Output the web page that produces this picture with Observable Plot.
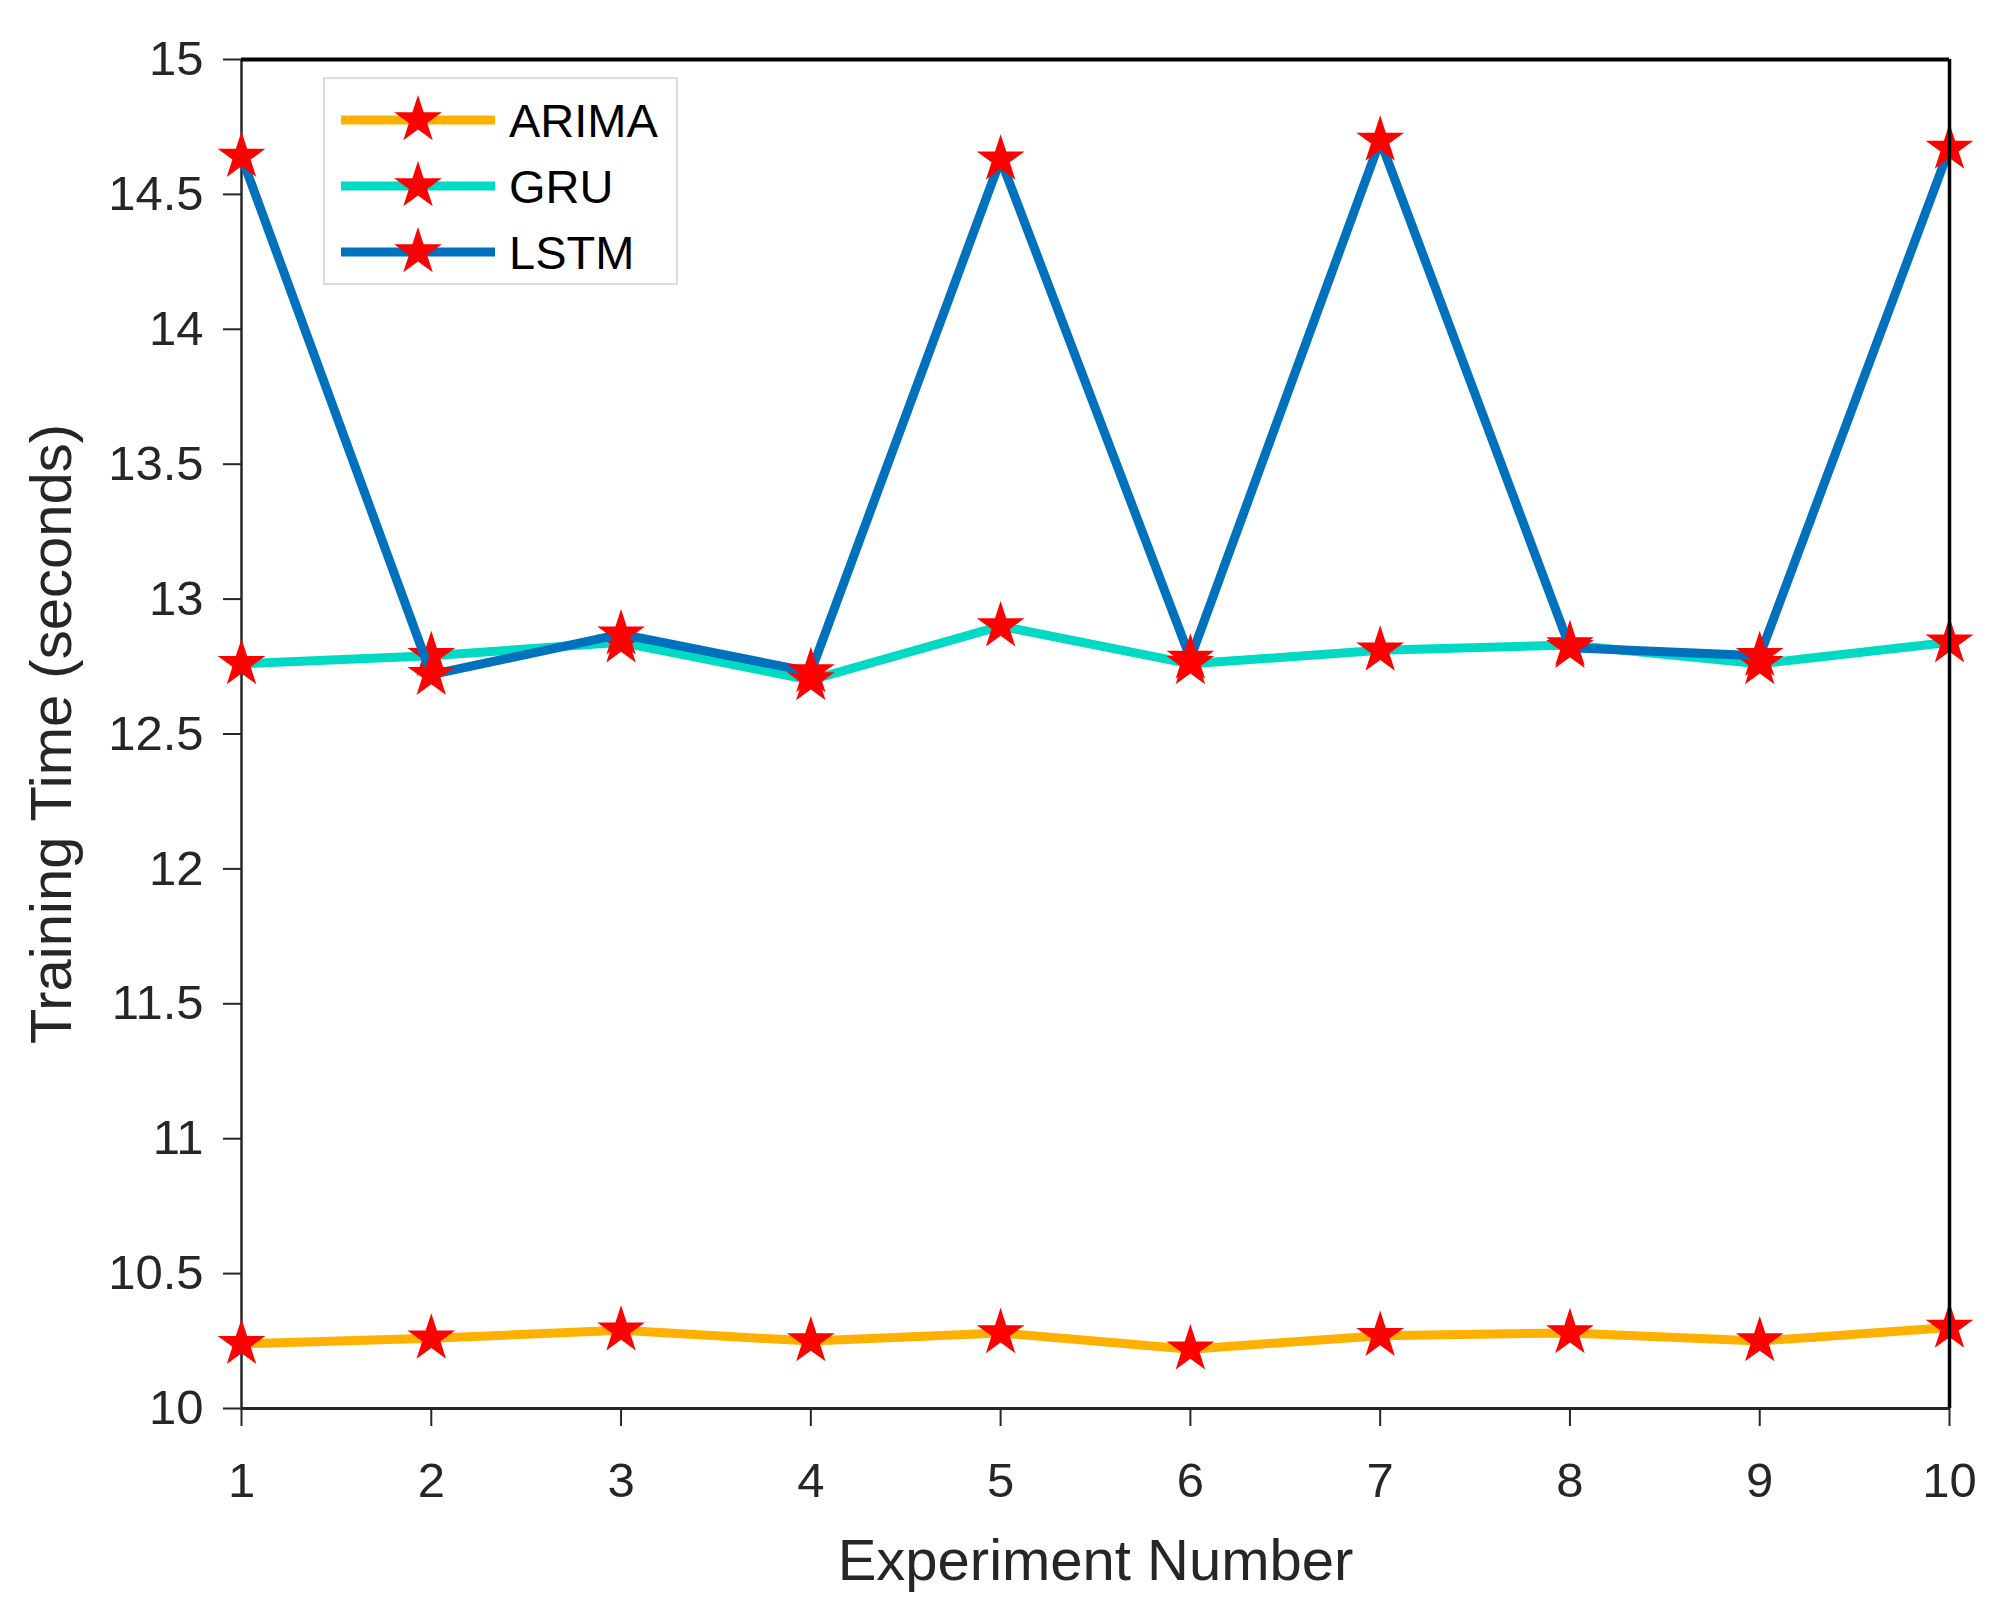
<!DOCTYPE html>
<html>
<head>
<meta charset="utf-8">
<script src="https://cdn.jsdelivr.net/npm/d3@7"></script>
<script src="https://cdn.jsdelivr.net/npm/@observablehq/plot@0.6"></script>
<style>
html, body { margin: 0; padding: 0; background: #fff; }
#wrap { position: relative; width: 2004px; height: 1608px; background: #fff; }
#legend {
  position: absolute; left: 323px; top: 77px; width: 355px; height: 208px;
  box-sizing: border-box; border: 2px solid #dcdcdc; background: #fff;
  padding-top: 8px;
  font-family: "Liberation Sans", Arial, sans-serif; font-size: 47px; color: #000;
}
.row { display: flex; align-items: center; height: 66px; padding-left: 16px; }
.row svg { display: block; margin-right: 14px; }
svg g[aria-label="x-axis label"] text, svg g[aria-label="y-axis label"] text { font-size: 58px; }
</style>
</head>
<body>
<div id="wrap"><div id="legend"></div></div>
<script>
// ---- data ----
const experiments = [1, 2, 3, 4, 5, 6, 7, 8, 9, 10];
const arima = [10.24, 10.26, 10.29, 10.25, 10.28, 10.22, 10.27, 10.28, 10.25, 10.30];
const gru   = [12.76, 12.79, 12.84, 12.70, 12.90, 12.76, 12.81, 12.83, 12.76, 12.84];
const lstm  = [14.64, 12.72, 12.87, 12.73, 14.63, 12.78, 14.70, 12.82, 12.79, 14.67];
const seriesNames = ["ARIMA", "GRU", "LSTM"];
const seriesColors = ["#FFB000", "#00D9C3", "#0072BD"];
const yTicks = [10, 10.5, 11, 11.5, 12, 12.5, 13, 13.5, 14, 14.5, 15];
const xLabel = "Experiment Number";
const yLabel = "Training Time (seconds)";

const seriesValues = [arima, gru, lstm];
const rows = [];
seriesNames.forEach((name, i) =>
  seriesValues[i].forEach((v, j) => rows.push({series: name, exp: experiments[j], time: v}))
);

const markerRed = "#FF0000";
const font = "'Liberation Sans', Arial, sans-serif";

const seriesMarks = seriesNames.flatMap(name => {
  const d = rows.filter(r => r.series === name);
  return [
    Plot.line(d, {x: "exp", y: "time", stroke: "series", strokeWidth: 9}),
    Plot.dot(d, {x: "exp", y: "time", symbol: "star", r: 15, fill: markerRed, stroke: "none"})
  ];
});

const chart = Plot.plot({
  width: 2004,
  height: 1608,
  marginLeft: 241,
  marginRight: 55,
  marginTop: 59,
  marginBottom: 200,
  style: {fontFamily: font, fontSize: "49px", color: "#262626", background: "white", overflow: "visible"},
  x: {domain: [1, 10]},
  y: {domain: [10, 15]},
  color: {domain: seriesNames, range: seriesColors},
  marks: [
    Plot.ruleX([experiments[0]], {stroke: "#262626", strokeWidth: 2.5}),
    Plot.ruleY([yTicks[0]], {stroke: "#262626", strokeWidth: 3}),
    Plot.axisX({ticks: experiments, tickSize: 18, tickPadding: 36, tickFormat: d => String(d),
      fontSize: 49, strokeWidth: 2, stroke: "#262626", fill: "#262626",
      label: xLabel, labelAnchor: "center", labelOffset: 171, labelArrow: "none"}),
    Plot.axisY({ticks: yTicks, tickSize: 18, tickPadding: 20, tickFormat: d => String(d),
      fontSize: 49, strokeWidth: 2, stroke: "#262626", fill: "#262626",
      label: yLabel, labelAnchor: "center", labelOffset: 212, labelArrow: "none"}),
    ...seriesMarks,
    Plot.ruleY([yTicks[yTicks.length - 1]], {stroke: "#000", strokeWidth: 4}),
    Plot.ruleX([experiments[experiments.length - 1]], {stroke: "#000", strokeWidth: 3.5})
  ]
});
document.getElementById("wrap").prepend(chart);

// ---- legend ----
const legend = d3.select("#legend");
const starPath = d3.symbol(d3.symbolStar, Math.PI * 15 * 15)();
seriesNames.forEach((name, i) => {
  const row = legend.append("div").attr("class", "row");
  const s = row.append("svg").attr("width", 154).attr("height", 66);
  s.append("line").attr("x1", 0).attr("x2", 154).attr("y1", 33).attr("y2", 33)
    .attr("stroke", seriesColors[i]).attr("stroke-width", 9);
  s.append("path").attr("d", starPath).attr("transform", "translate(77,33)").attr("fill", markerRed);
  row.append("span").text(name);
});
</script>
</body>
</html>
